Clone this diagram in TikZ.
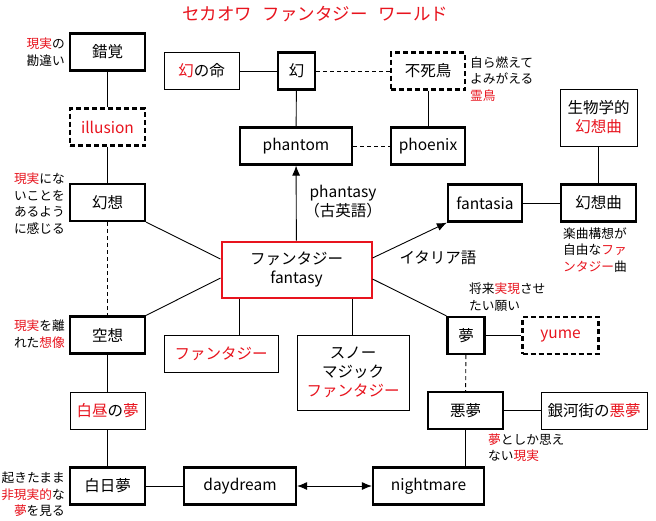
\documentclass[tikz,border=0pt]{standalone}
\usepackage{fontspec}
\setmainfont{Noto Sans CJK JP}
\usetikzlibrary{arrows.meta}
\definecolor{myred}{RGB}{232,20,30}
\newcommand\rd[1]{{\color{myred}#1}}
\begin{document}
\begin{tikzpicture}[x=1pt,y=-1pt,
  box/.style={draw, line width=0.9pt, minimum width=75pt, minimum height=37pt, inner sep=0pt, font=\fontsize{15.5}{19}\selectfont, align=center},
  tbox/.style={box, line width=2.2pt},
  dbox/.style={box, line width=2.2pt, dash pattern=on 5pt off 3pt},
  ann/.style={font=\fontsize{12.7}{16.5}\selectfont, inner sep=0pt},
  lbl/.style={font=\fontsize{15.5}{19}\selectfont, inner sep=0pt, align=center},
  ln/.style={line width=0.9pt},
  dl/.style={line width=0.9pt, dash pattern=on 4pt off 3pt},
  tip/.style={-{Latex[length=10pt,width=8pt]}},
]
\fill[white] (0,0) rectangle (656,520);
\useasboundingbox (0,0) rectangle (656,520);

\node[font=\fontsize{17.5}{20}\selectfont, text=myred, inner sep=0pt] (title) at (315,14) {セカオワ\hspace{0.6em}ファンタジー\hspace{0.6em}ワールド};

% left column
\node[tbox] (sakkaku) at (107.5,52) {錯覚};
\node[dbox] (illusion) at (107.5,127) {\rd{illusion}};
\node[tbox] (gensou) at (107.5,202.5) {幻想};
\node[tbox] (kuusou) at (107.5,335) {空想};
\node[box] (hakuchu) at (107.5,410.5) {\rd{白昼}の\rd{夢}};
\node[tbox] (hakujitsu) at (107.5,486) {白日夢};

% bottom row
\node[tbox, minimum width=112pt] (daydream) at (240,486) {daydream};
\node[tbox, minimum width=111pt] (nightmare) at (428.5,486) {nightmare};
\node[tbox] (akumu) at (465.5,410.5) {悪夢};
\node[box, minimum width=106pt] (ginga) at (594,410.5) {銀河街の\rd{悪夢}};
\node[tbox, minimum width=37pt] (yume) at (466,335.5) {夢};
\node[dbox, minimum width=76pt] (yumeEn) at (560.5,335.5) {\rd{yume}};

% right
\node[tbox, minimum width=74pt] (fantasia) at (485,203) {fantasia};
\node[tbox, minimum width=75pt] (gensokyoku) at (598.5,203) {幻想曲};
\node[box, minimum width=77pt, minimum height=57pt] (seibutsu) at (598.5,117.5) {生物学的\\\rd{幻想曲}};

% center
\node[draw=myred, line width=2pt, minimum width=150pt, minimum height=56pt, inner sep=0pt, font=\fontsize{15.5}{19}\selectfont, align=center] (fantasy) at (296.5,269.5) {ファンタジー\\fantasy};
\node[box, minimum width=114pt, minimum height=37pt] (fant1) at (221,353.5) {\rd{ファンタジー}};
\node[box, minimum width=112pt, minimum height=75pt] (snow) at (353,372.5) {スノー\\マジック\\\rd{ファンタジー}};

% top
\node[tbox, minimum width=112pt] (phantom) at (296,146) {phantom};
\node[tbox, minimum width=74pt] (phoenix) at (428,146) {phoenix};
\node[tbox, minimum width=37pt] (maboroshi) at (296.5,71) {幻};
\node[box, minimum width=75pt] (maboinochi) at (201.5,71) {\rd{幻}の命};
\node[dbox, minimum width=74pt] (fushicho) at (428,71) {不死鳥};

% labels
\node[lbl] (lblphantasy) at (343,202) {phantasy\\（古英語）};
\node[lbl] (lblitaly) at (438,258) {イタリア語};

% annotations
\node[ann, anchor=east, align=right] (a1) at (65,52) {\rd{現実}の\\勘違い};
\node[ann, anchor=east, align=right] (a2) at (65,203.5) {\rd{現実}にな\\いことを\\あるよう\\に感じる};
\node[ann, anchor=east, align=right] (a3) at (65,334) {\rd{現実}を離\\れた\rd{想像}};
\node[ann, anchor=east, align=right] (a4) at (65,494.5) {起きたまま\\\rd{非現実的}な\\\rd{夢}を見る};
\node[ann, anchor=west, align=left] (a5) at (470,79) {自ら燃えて\\よみがえる\\\rd{霊鳥}};
\node[ann, anchor=west, align=left] (a6) at (563,250) {楽曲構想が\\自由な\rd{ファ}\\\rd{ンタジー}曲};
\node[ann, anchor=west, align=left] (a7) at (469,297) {将来\rd{実現}させ\\たい願い};
\node[ann, anchor=west, align=left] (a8) at (488,447.5) {\rd{夢}としか思え\\ない\rd{現実}};

% connectors
\draw[ln] (sakkaku) -- (illusion);
\draw[ln] (illusion) -- (gensou);
\draw[dl] (gensou) -- (kuusou);
\draw[ln] (kuusou) -- (hakuchu);
\draw[ln] (hakuchu) -- (hakujitsu);
\draw[ln] (hakujitsu) -- (daydream);
\draw[ln, {Latex[length=10pt,width=8pt]}-{Latex[length=10pt,width=8pt]}] (daydream) -- (nightmare);
\draw[ln] (akumu.south) -- (akumu.south |- nightmare.north);
\draw[ln] (akumu) -- (ginga);
\draw[dl] (yume) -- (akumu);
\draw[ln] (yume) -- (yumeEn);
\draw[ln] ([yshift=-9.5pt]fantasy.east) -- (yume.north west);
\draw[ln, tip] ([yshift=11.5pt]fantasy.east) -- (fantasia.south west);
\draw[ln, tip] (fantasy) -- (phantom);
\draw[ln] (gensou.south east) -- ([yshift=10.5pt]fantasy.west);
\draw[ln] (kuusou.north east) -- ([yshift=-8.5pt]fantasy.west);
\draw[ln] ([xshift=-57.5pt]fantasy.south) -- ([xshift=-57.5pt]fantasy.south |- fant1.north);
\draw[ln] ([xshift=56pt]fantasy.south) -- ([xshift=56pt]fantasy.south |- snow.north);
\draw[ln] (phantom) -- (maboroshi);
\draw[ln] (maboroshi) -- (maboinochi);
\draw[dl] (maboroshi) -- (fushicho);
\draw[ln] (fushicho) -- (phoenix);
\draw[dl] (phantom) -- (phoenix);
\draw[ln] (fantasia) -- (gensokyoku);
\draw[ln] (gensokyoku) -- (seibutsu);
\end{tikzpicture}
\end{document}
